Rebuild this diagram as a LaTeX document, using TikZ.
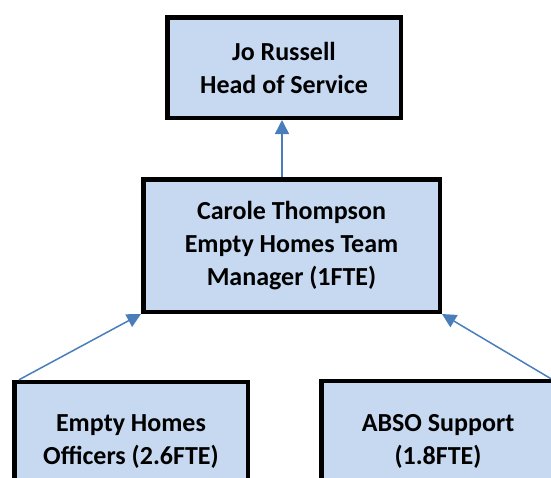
\documentclass[tikz,border=0pt]{standalone}
\usepackage{fontspec}
\setmainfont{Carlito}
\usetikzlibrary{arrows.meta}
\definecolor{boxfill}{HTML}{C6D9F1}
\definecolor{arrowblue}{HTML}{4A7EBB}
\tikzset{
  orgbox/.style={draw=black, line width=4.5pt, fill=boxfill, rectangle,
    align=center, font=\fontsize{26}{33}\selectfont\bfseries, inner sep=0pt},
  link/.style={draw=arrowblue, line width=1.5pt, -{Triangle[length=14pt,width=14pt]}}
}
\begin{document}
\begin{tikzpicture}[x=1pt,y=-1pt]
\useasboundingbox (0,0) rectangle (551,477);
\clip (0,0) rectangle (551,477);
\node[orgbox, minimum width=233.5pt, minimum height=100.5pt] (head) at (284,67.5) {Jo Russell\\Head of Service};
\node[orgbox, minimum width=296.5pt, minimum height=132.5pt] (mgr) at (291.5,245.5) {Carole Thompson\\Empty Homes Team\\Manager (1FTE)};
\node[orgbox, minimum width=233.5pt, minimum height=120pt] (off) at (131,442) {Empty Homes\\Officers (2.6FTE)};
\node[orgbox, minimum width=233.5pt, minimum height=120pt] (abso) at (438,441) {ABSO Support\\(1.8FTE)};
\draw[link] ([xshift=-2pt]mgr.north -| head.south) -- ([xshift=-2pt]head.south);
\draw[link] ([xshift=7pt]off.north west) -- (mgr.south west);
\draw[link] ([xshift=-6pt]abso.north east) -- (mgr.south east);
\end{tikzpicture}
\end{document}
